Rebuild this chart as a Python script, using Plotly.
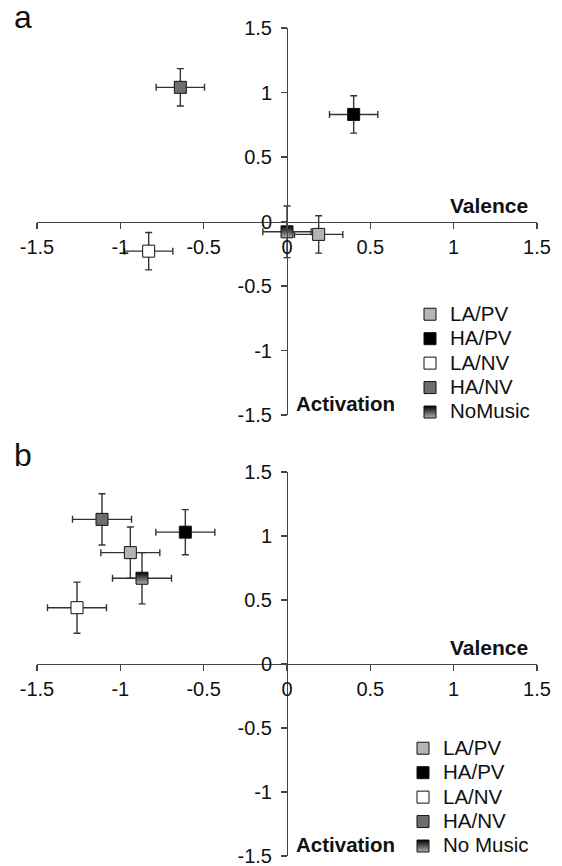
import plotly.graph_objects as go

# ---------------- data ----------------
groups_a = ["LA/PV", "HA/PV", "LA/NV", "HA/NV", "NoMusic"]
valence_a = [0.19, 0.40, -0.83, -0.64, 0.00]
activation_a = [-0.10, 0.83, -0.23, 1.04, -0.08]
valence_err_a = [0.145, 0.145, 0.145, 0.145, 0.145]
activation_err_a = [0.145, 0.145, 0.145, 0.145, 0.20]

groups_b = ["LA/PV", "HA/PV", "LA/NV", "HA/NV", "No Music"]
valence_b = [-0.94, -0.61, -1.26, -1.11, -0.87]
activation_b = [0.87, 1.03, 0.44, 1.13, 0.67]
valence_err_b = [0.177, 0.177, 0.177, 0.177, 0.177]
activation_err_b = [0.20, 0.176, 0.20, 0.20, 0.20]

tick_vals = [-1.5, -1, -0.5, 0, 0.5, 1, 1.5]
tick_text = ["-1.5", "-1", "-0.5", "0", "0.5", "1", "1.5"]

fill_colors = ["#b4b4b4", "#000000", "#ffffff", "#6e6e6e", "#000000"]
gradient_flags = [False, False, False, False, True]

# ---------------- layout geometry ----------------
W, H = 562, 866
x_dom = [37 / W, 537 / W]
ya_dom = [1 - 415 / H, 1 - 28 / H]
yb_dom = [1 - 856 / H, 1 - 472 / H]

FONT = "Liberation Sans, Arial, sans-serif"
AXIS_COLOR = "#444444"
TXT = "#111111"

fig = go.Figure()


def add_panel(names, vx, vy, ex, ey, xa, ya, legend):
    for i, name in enumerate(names):
        marker = dict(symbol="square", size=12, color=fill_colors[i],
                      line=dict(color="#111111", width=1))
        if gradient_flags[i]:
            marker["gradient"] = dict(type="vertical", color="#b0b0b0")
        fig.add_trace(go.Scatter(
            x=[vx[i]], y=[vy[i]], mode="markers",
            name='<span style="font-size:20.5px">%s</span>' % name,
            xaxis=xa, yaxis=ya, legend=legend,
            marker=marker,
            error_x=dict(type="data", array=[ex[i]], color="#333333",
                         thickness=1.4, width=3.5),
            error_y=dict(type="data", array=[ey[i]], color="#333333",
                         thickness=1.4, width=3.5),
        ))


add_panel(groups_a, valence_a, activation_a, valence_err_a, activation_err_a,
          "x", "y", "legend")
add_panel(groups_b, valence_b, activation_b, valence_err_b, activation_err_b,
          "x2", "y2", "legend2")

axis_common = dict(
    range=[-1.5, 1.5], tickvals=tick_vals, ticktext=tick_text,
    showline=True, linecolor=AXIS_COLOR, linewidth=1.2,
    ticks="outside", ticklen=6, tickcolor=AXIS_COLOR, tickwidth=1.2,
    showgrid=False, zeroline=False, fixedrange=True, automargin=False,
    ticklabeloverflow="allow",
    tickfont=dict(family=FONT, size=20, color=TXT),
)
x_extra = dict(ticklabelstandoff=1)
y_extra = dict(ticklabelstandoff=5)

legend_common = dict(xanchor="left", yanchor="top",
                     font=dict(family=FONT, size=16.5, color=TXT),
                     bgcolor="rgba(0,0,0,0)", tracegroupgap=0, itemwidth=30)

fig.update_layout(
    template="none",
    width=W, height=H,
    margin=dict(l=0, r=0, t=0, b=0, autoexpand=False),
    paper_bgcolor="white", plot_bgcolor="rgba(0,0,0,0)",
    font=dict(family=FONT, color=TXT),
    showlegend=True,
    xaxis=dict(axis_common, **x_extra, domain=x_dom, anchor="free",
               position=(ya_dom[0] + ya_dom[1]) / 2),
    yaxis=dict(axis_common, **y_extra, domain=ya_dom, anchor="free",
               position=(x_dom[0] + x_dom[1]) / 2),
    xaxis2=dict(axis_common, **x_extra, domain=x_dom, anchor="free",
                position=(yb_dom[0] + yb_dom[1]) / 2),
    yaxis2=dict(axis_common, **y_extra, domain=yb_dom, anchor="free",
                position=(x_dom[0] + x_dom[1]) / 2),
    legend=dict(legend_common, x=410 / W, y=1 - 297 / H),
    legend2=dict(legend_common, x=403 / W, y=1 - 731 / H),
)

annotations = [
    dict(text="a", x=12 / W, y=1 - 17 / H, xref="paper", yref="paper",
         xanchor="left", yanchor="middle", showarrow=False,
         font=dict(family=FONT, size=32, color=TXT)),
    dict(text="b", x=12 / W, y=1 - 455 / H, xref="paper", yref="paper",
         xanchor="left", yanchor="middle", showarrow=False,
         font=dict(family=FONT, size=32, color=TXT)),
    dict(text="<b>Valence</b>", x=1.455, y=0.02, xref="x", yref="y",
         xanchor="right", yanchor="bottom", showarrow=False,
         font=dict(family=FONT, size=21, color=TXT)),
    dict(text="<b>Activation</b>", x=0.04, y=-1.41, xref="x", yref="y",
         xanchor="left", yanchor="middle", showarrow=False,
         font=dict(family=FONT, size=20.5, color=TXT)),
    dict(text="<b>Valence</b>", x=1.455, y=0.02, xref="x2", yref="y2",
         xanchor="right", yanchor="bottom", showarrow=False,
         font=dict(family=FONT, size=21, color=TXT)),
    dict(text="<b>Activation</b>", x=0.04, y=-1.41, xref="x2", yref="y2",
         xanchor="left", yanchor="middle", showarrow=False,
         font=dict(family=FONT, size=20.5, color=TXT)),
]
fig.update_layout(annotations=annotations)

fig.write_html("out.html",
               config={"displayModeBar": False, "staticPlot": True},
               post_script="document.body.style.margin='0';"
                           "document.body.style.overflow='hidden';")
